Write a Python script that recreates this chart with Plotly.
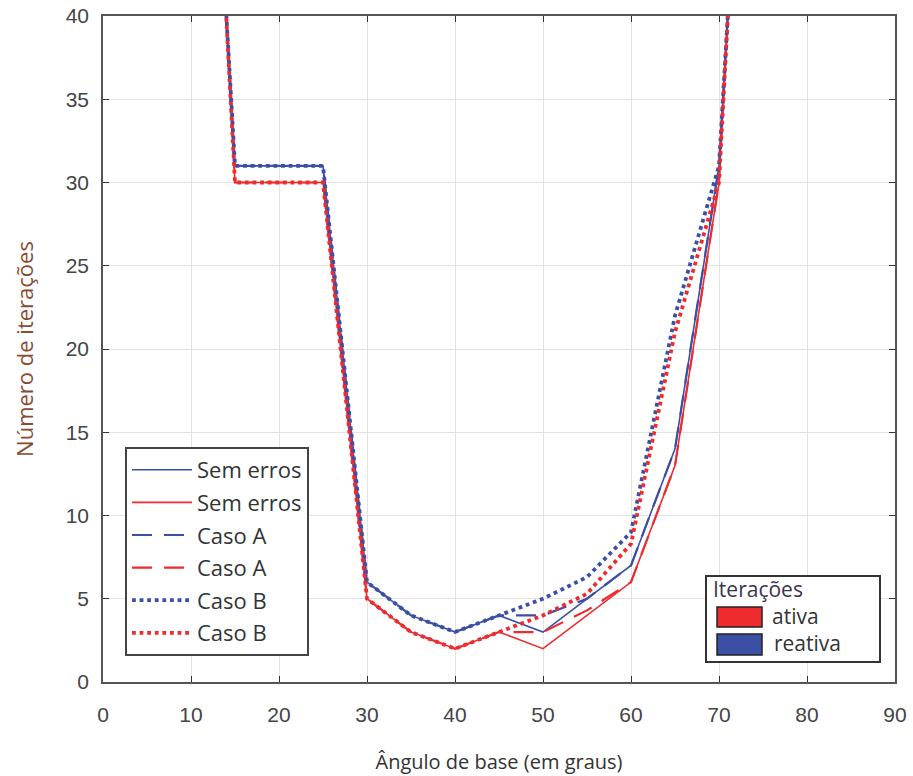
import plotly.graph_objects as go

angles = [10, 15, 20, 25, 30, 35, 40, 45, 50, 55, 60, 65, 70, 75]

sem_erros_reativa = [77, 31, 31, 31, 6, 4, 3, 4, 3, 5, 7, 14, 31, 76]
sem_erros_ativa   = [80, 30, 30, 30, 5, 3, 2, 3, 2, 4, 6, 13, 30, 80]
caso_a_reativa    = [77, 31, 31, 31, 6, 4, 3, 4, 4, 5, 7, 14, 31, 76]
caso_a_ativa      = [80, 30, 30, 30, 5, 3, 2, 3, 3, 4.3, 6, 13, 30, 80]
caso_b_reativa    = [77, 31, 31, 31, 6, 4, 3, 4, 5, 6.3, 9, 22, 31, 76]
caso_b_ativa      = [80, 30, 30, 30, 5, 3, 2, 3, 4, 5.3, 8.3, 21, 30, 80]

legend_labels = ["Sem erros", "Sem erros", "Caso A", "Caso A", "Caso B", "Caso B"]
x_ticks = [0, 10, 20, 30, 40, 50, 60, 70, 80, 90]
y_ticks = [0, 5, 10, 15, 20, 25, 30, 35, 40]

BLUE = "#3c4fa6"
RED = "#ee2b2f"

series = [
    (sem_erros_reativa, BLUE, "solid", 1.6),
    (sem_erros_ativa, RED, "solid", 1.6),
    (caso_a_reativa, BLUE, "20px,12px", 2.2),
    (caso_a_ativa, RED, "20px,12px", 2.2),
    (caso_b_reativa, BLUE, "dot", 3.8),
    (caso_b_ativa, RED, "dot", 3.8),
]

fig = go.Figure()
for i, ((vals, col, dash, w), name) in enumerate(zip(series, legend_labels)):
    fig.add_trace(go.Scatter(
        x=angles, y=vals, mode="lines", name=name,
        legendgroup=f"g{i}",
        line=dict(color=col, dash=dash, width=w),
    ))

axis_common = dict(
    showline=True, linecolor="#555555", linewidth=1.5, mirror="ticks",
    ticks="inside", ticklen=6, tickcolor="#333333",
    showgrid=True, gridcolor="#e3e3e3", gridwidth=1,
    zeroline=False, automargin=False, ticklabeloverflow="allow",
    tickfont=dict(family="Liberation Sans", size=21, color="#444444"),
)

fig.update_xaxes(
    range=[0, 90], tickvals=x_ticks, ticktext=[str(v) for v in x_ticks],
    title=dict(text="Ângulo de base (em graus)",
               font=dict(family="Open Sans", size=20, color="#333333"),
               standoff=30),
    ticklabelstandoff=13,
    **axis_common,
)
fig.update_yaxes(
    range=[0, 40], tickvals=y_ticks, ticktext=[str(v) for v in y_ticks],
    title=dict(text="Número de iterações",
               font=dict(family="Open Sans", size=22, color="#8b4a32"),
               standoff=26),
    ticklabelstandoff=8,
    **axis_common,
)

# Second (colour) legend: box, swatches and labels in paper coordinates
def px_x(p):
    return (p - 103) / 792.0

def px_y(p):
    return (682 - p) / 666.0

shapes = [
    dict(type="rect", xref="paper", yref="paper",
         x0=px_x(706), x1=px_x(880), y0=px_y(662), y1=px_y(576),
         line=dict(color="#333333", width=2), fillcolor="white", layer="above"),
    dict(type="rect", xref="paper", yref="paper",
         x0=px_x(717), x1=px_x(762), y0=px_y(627), y1=px_y(607),
         line=dict(color="#222222", width=1.5), fillcolor=RED, layer="above"),
    dict(type="rect", xref="paper", yref="paper",
         x0=px_x(717), x1=px_x(762), y0=px_y(655), y1=px_y(634),
         line=dict(color="#222222", width=1.5), fillcolor=BLUE, layer="above"),
]
annotations = [
    dict(text="Iterações", x=px_x(711), y=px_y(589), xref="paper", yref="paper",
         xanchor="left", yanchor="middle", showarrow=False,
         font=dict(family="Open Sans", size=21, color="#3a3350")),
    dict(text="ativa", x=px_x(770), y=px_y(616), xref="paper", yref="paper",
         xanchor="left", yanchor="middle", showarrow=False,
         font=dict(family="Open Sans", size=21, color="#333333")),
    dict(text="reativa", x=px_x(772), y=px_y(643), xref="paper", yref="paper",
         xanchor="left", yanchor="middle", showarrow=False,
         font=dict(family="Open Sans", size=21, color="#333333")),
]

fig.update_layout(
    width=913, height=776,
    margin=dict(l=103, r=18, t=16, b=94, autoexpand=False),
    plot_bgcolor="white", paper_bgcolor="white",
    showlegend=True,
    legend=dict(
        x=px_x(125), y=px_y(447), xanchor="left", yanchor="top",
        bgcolor="white", bordercolor="#444444", borderwidth=2,
        font=dict(family="Open Sans", size=22, color="#333333"),
        tracegroupgap=1, itemwidth=60,
    ),
    shapes=shapes, annotations=annotations,
)

# Remove the default 8px page margin so the figure fills the window exactly.
fig.write_html(
    "out.html",
    config={"displayModeBar": False},
    post_script="document.body.style.margin='0';document.body.style.overflow='hidden';",
)
